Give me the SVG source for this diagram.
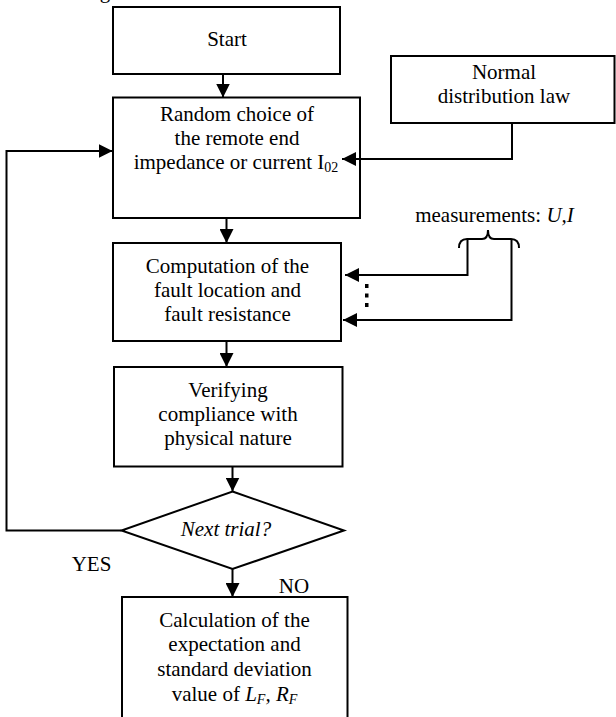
<svg xmlns="http://www.w3.org/2000/svg" width="616" height="717" viewBox="0 0 616 717">
<style>
.box{fill:#fff;stroke:#000;stroke-width:2}
.t{font-family:"Liberation Serif","Times New Roman",serif;font-size:21px;fill:#000;text-anchor:middle}
.l{fill:none;stroke:#000;stroke-width:2}
.a{fill:none;stroke:#000;stroke-width:2;marker-end:url(#ah)}
.i{font-style:italic}
</style>
<defs>
<marker id="ah" markerUnits="userSpaceOnUse" markerWidth="14" markerHeight="14" refX="14" refY="7" orient="auto" viewBox="0 0 14 14">
<path d="M0,0 L14,7 L0,14 z" fill="#000"/>
</marker>
</defs>
<rect width="616" height="717" fill="#fff"/>
<text class="t" x="105" y="-2">g</text>
<g id="start">
<rect class="box" x="113" y="7" width="227" height="67"/>
<text class="t" x="227" y="46">Start</text>
</g>
<g id="normal">
<rect class="box" x="391" y="56" width="223.5" height="67"/>
<text class="t" x="504" y="79">Normal</text>
<text class="t" x="504" y="103">distribution law</text>
</g>
<g id="random">
<rect class="box" x="113" y="97.5" width="247" height="120.5"/>
<text class="t" x="237" y="121">Random choice of</text>
<text class="t" x="237" y="145">the remote end</text>
<text class="t" x="236" y="169">impedance or current I<tspan font-size="14" dy="3">02</tspan></text>
</g>
<g id="computation">
<rect class="box" x="113" y="243" width="228" height="98"/>
<text class="t" x="227.5" y="273">Computation of the</text>
<text class="t" x="227.5" y="297">fault location and</text>
<text class="t" x="227.5" y="321">fault resistance</text>
</g>
<g id="measurements">
<text class="t" x="494.5" y="222">measurements: <tspan class="i">U,I</tspan></text>
<path class="l" d="M459,248 Q459,239 467,239 L482,239 Q488,239 488,230 Q488,239 494,239 L511,239 Q519,239 519,248"/>
<rect x="365" y="284" width="3.5" height="4" fill="#000"/>
<rect x="365" y="293.5" width="3.5" height="4" fill="#000"/>
<rect x="365" y="303" width="3.5" height="4" fill="#000"/>
</g>
<g id="verifying">
<rect class="box" x="114" y="367" width="228.5" height="99.5"/>
<text class="t" x="228" y="397">Verifying</text>
<text class="t" x="228" y="421">compliance with</text>
<text class="t" x="228" y="445">physical nature</text>
</g>
<g id="decision">
<polygon class="box" points="232.5,491.5 344,530.5 232.5,569 121.5,530.5"/>
<text class="t i" x="226" y="536">Next trial?</text>
</g>
<g id="calculation">
<rect class="box" x="122" y="597" width="225.5" height="140"/>
<text class="t" x="234.5" y="626.5">Calculation of the</text>
<text class="t" x="234.5" y="651">expectation and</text>
<text class="t" x="234.5" y="675.5">standard deviation</text>
<text class="t" x="234.5" y="700.5">value of <tspan class="i">L<tspan font-size="14" dy="3">F</tspan><tspan dy="-3">, R</tspan><tspan font-size="14" dy="3">F</tspan></tspan></text>
</g>
<g id="labels">
<text class="t" x="91.5" y="570.5">YES</text>
<text class="t" x="294" y="593">NO</text>
</g>
<g id="connectors">
<path class="a" d="M223,74 V97.5"/>
<path class="a" d="M512,123 V159 H342"/>
<path class="a" d="M121.5,530.5 H6.5 V151 H112.5"/>
<path class="a" d="M226.5,218 V243"/>
<path class="a" d="M226.5,341 V367"/>
<path class="a" d="M232.5,466.5 V491.5"/>
<path class="a" d="M232.5,569 V597"/>
<path class="a" d="M467.5,239 V275 H345"/>
<path class="a" d="M511.5,239 V320 H343"/>
</g>
</svg>
